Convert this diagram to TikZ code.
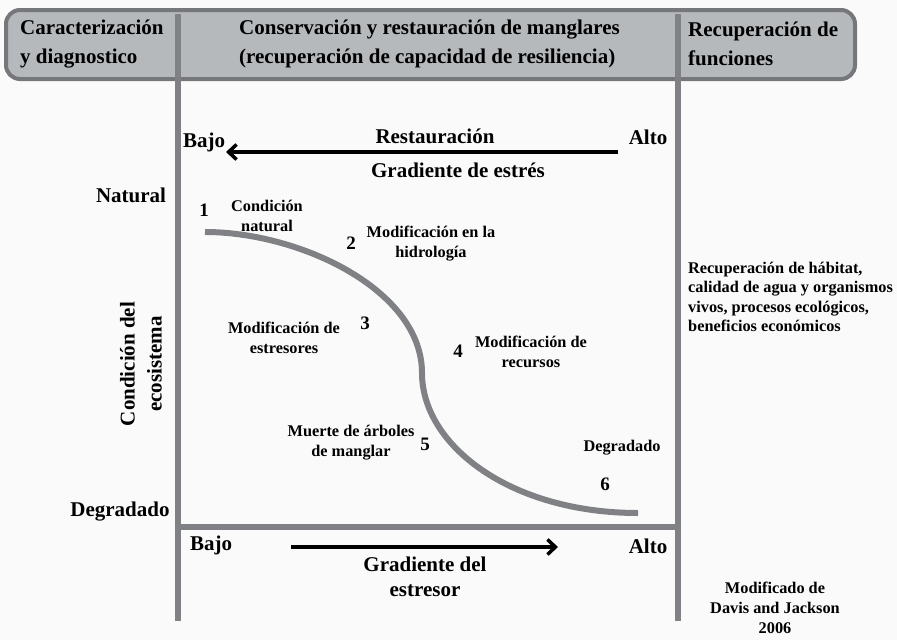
\documentclass[tikz,border=0pt]{standalone}
\usepackage{fontspec}
\setmainfont{Liberation Serif}
\usetikzlibrary{arrows.meta}
\definecolor{bgc}{RGB}{250,250,250}
\definecolor{hdrfill}{RGB}{182,185,188}
\definecolor{hdrline}{RGB}{118,119,123}
\definecolor{axisgray}{RGB}{128,129,133}
\tikzset{
  big/.style={font=\bfseries\fontsize{21}{25}\selectfont, inner sep=0pt},
  hdr/.style={font=\bfseries\fontsize{21}{29}\selectfont, inner sep=0pt, align=left, anchor=west},
  small/.style={font=\bfseries\fontsize{16.3}{20}\selectfont, inner sep=0pt, align=center},
  num/.style={font=\bfseries\fontsize{19}{22}\selectfont, inner sep=0pt},
  axis/.style={draw=axisgray, line width=6.5pt},
  curve/.style={draw=axisgray, line width=6pt},
  garrow/.style={draw=black, line width=3.5pt, -{Straight Barb[length=8pt,width=15pt]}}
}
\begin{document}
\begin{tikzpicture}[x=1pt,y=-1pt]
\fill[bgc] (0,0) rectangle (897,640);
\useasboundingbox (0,0) rectangle (897,640);
% header
\draw[draw=hdrline, fill=hdrfill, line width=4pt, rounded corners=14pt] (6,10) rectangle (855,79);
\node[hdr] (h1) at (20,44) {Caracterización\\y diagnostico};
\node[hdr] (h2) at (239,44) {Conservación y restauración de manglares\\(recuperación de capacidad de resiliencia)};
\node[hdr] (h3) at (688,44) {Recuperación de\\funciones};
% axes
\coordinate (l1t) at (178,14);
\coordinate (l1b) at (178,621);
\coordinate (l2t) at (678,14);
\coordinate (l2b) at (678,621);
\coordinate (hl) at (178,527);
\coordinate (hr) at (678,527);
\draw[axis] (l1t) -- (l1b);
\draw[axis] (l2t) -- (l2b);
\draw[axis] (hl) -- (hr);
% top arrow
\node[big] (bajo1) at (204,142) {Bajo};
\node[big] (alto1) at (648,137) {Alto};
\coordinate (ta1) at (618,152);
\coordinate (ta2) at (226,152);
\draw[garrow] (ta1) -- (ta2);
\node[big] (rest) at (435,136) {Restauración};
\node[big] (grad1) at (458,170) {Gradiente de estrés};
% left labels
\node[big] (nat) at (131,195) {Natural};
\node[big] (deg) at (120,512) {Degradado};
\node[big, rotate=90, align=center, font=\bfseries\fontsize{21}{27}\selectfont] (cond) at (141,364) {Condición del\\ecosistema};
% curve
\coordinate (c0) at (205,232);
\coordinate (c1) at (422,373);
\coordinate (c2) at (638,513);
\draw[curve] (c0) .. controls (300,232) and (422,290) .. (c1) .. controls (422,445) and (510,513) .. (c2);
% stage labels
\node[num] (n1) at (204,210) {1};
\node[small] (t1) at (267,216) {Condición\\natural};
\node[num] (n2) at (351,243) {2};
\node[small] (t2) at (431,244) {Modificación en la\\hidrología};
\node[num] (n3) at (365,323) {3};
\node[small] (t3) at (284,338) {Modificación de\\estresores};
\node[num] (n4) at (458,351) {4};
\node[small] (t4) at (531,352) {Modificación de\\recursos};
\node[num] (n5) at (425,444) {5};
\node[small] (t5) at (351,443) {Muerte de árboles\\de manglar};
\node[small] (t6) at (622,448) {Degradado};
\node[num] (n6) at (605,484) {6};
% bottom arrow
\node[big] (bajo2) at (211,545) {Bajo};
\node[big] (alto2) at (648,546) {Alto};
\coordinate (ba1) at (291,547);
\coordinate (ba2) at (558,547);
\draw[garrow] (ba1) -- (ba2);
\node[big, align=center] (grad2) at (425,577) {Gradiente del\\estresor};
% right text
\node[small, align=left, anchor=west, font=\bfseries\fontsize{16.3}{19.3}\selectfont] (rec) at (688,297) {Recuperación de hábitat,\\calidad de agua y organismos\\vivos, procesos ecológicos,\\beneficios económicos};
\node[small] (cred) at (775,608) {Modificado de\\Davis and Jackson\\2006};
\end{tikzpicture}
\end{document}
